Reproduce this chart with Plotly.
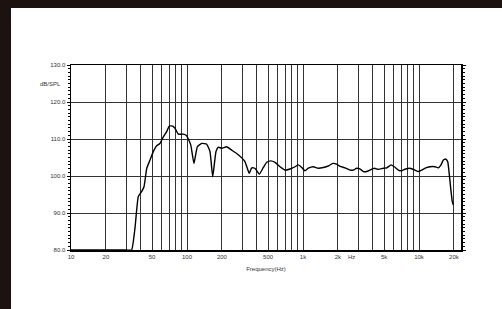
import plotly.graph_objects as go
import math

freq = [10, 20, 30, 33.3, 35.6, 38.0, 40.6, 42.6, 45.0, 48.0, 51.2, 54.8, 58.5, 62.5, 66.8, 70.3,
        75.3, 78.8, 84.2, 93.0, 99.3, 107.7, 114.8, 122.7, 133.9, 147.9, 157.8, 166.6,
        177.8, 186.2, 199.2, 219.8, 242.7, 268.1, 296.5, 316, 331, 344, 361, 385, 420,
        455, 487, 527, 574, 634, 700, 773, 854, 912, 975, 1040, 1111, 1227, 1356, 1497,
        1653, 1803, 1953, 2086, 2303, 2543, 2716, 2904, 3099, 3311, 3540, 3781, 4118,
        4460, 4925, 5268, 5741, 6127, 6633, 7096, 7677, 8360, 9240, 9865, 10550, 11420,
        12440, 13740, 14670, 15480, 16200, 16980, 17670, 18140, 18760, 19360, 19770]
spl = [80, 80, 80, 80.0, 85.9, 94.4, 95.8, 97.1, 102.1, 104.3, 106.6, 108.2, 108.8, 110.6, 112.0, 113.5,
       113.5, 112.9, 111.3, 111.3, 110.9, 108.4, 103.4, 107.9, 108.8, 108.6, 106.6, 99.8,
       106.6, 107.8, 107.5, 107.9, 107.0, 106.1, 104.9, 103.9, 102.1, 100.7, 102.2, 102.1, 100.5,
       102.3, 103.7, 104.1, 103.7, 102.5, 101.6, 101.9, 102.5, 103.0, 102.3, 101.4, 102.1, 102.5, 102.1, 102.3,
       102.7, 103.4, 103.2, 102.6, 102.2, 101.6, 101.6, 102.1, 101.9, 101.2, 101.2, 101.6, 102.1,
       101.8, 102.1, 102.2, 103.0, 102.5, 101.6, 101.4, 101.9, 102.1, 101.6, 101.2, 101.6, 102.2,
       102.5, 102.5, 102.2, 103.0, 104.3, 104.6, 103.9, 101.2, 96.7, 93.1, 92.2]

x_grid = [m * d for d in (10, 100, 1000, 10000) for m in range(1, 10)] + [20000]
x_labels = {10: "10", 20: "20", 50: "50", 100: "100", 200: "200", 500: "500",
            1000: "1k", 2000: "2k", 5000: "5k", 10000: "10k", 20000: "20k"}
y_ticks = [80, 90, 100, 110, 120, 130]

W, H = 502, 309
L, R, T, B = 71, 41, 65, 59
pw, ph = W - L - R, H - T - B

def px(xp):
    return (xp - L) / pw

def py(yp):
    return (H - B - yp) / ph

fig = go.Figure()
fig.add_trace(go.Scatter(x=freq, y=spl, mode="lines",
                         line=dict(color="#000000", width=1.4, shape="spline", smoothing=0.4),
                         hoverinfo="skip", showlegend=False))

fig.update_xaxes(type="log", range=[1, 1 + 390 / 116],
                 tickvals=x_grid,
                 ticktext=[x_labels.get(v, "") for v in x_grid],
                 showgrid=True, gridcolor="#333333", gridwidth=1,
                 showline=True, linecolor="#000000", linewidth=1.5, mirror=True,
                 ticks="", tickfont=dict(family="Liberation Sans", size=6, color="#333333"),
                 title=dict(text="Frequency(Hz)", font=dict(family="Liberation Sans", size=6, color="#333333"),
                            standoff=8),
                 zeroline=False)
fig.update_yaxes(range=[80, 130], tickvals=y_ticks,
                 ticktext=[f"{v:.1f}" for v in y_ticks],
                 showgrid=True, gridcolor="#333333", gridwidth=1,
                 showline=True, linecolor="#000000", linewidth=1.5, mirror="ticks",
                 ticks="outside", ticklen=3, tickcolor="#000000",
                 minor=dict(dtick=1, ticks="outside", ticklen=2, tickcolor="#000000", showgrid=False),
                 tickfont=dict(family="Liberation Sans", size=6, color="#333333"),
                 zeroline=False)

fig.add_annotation(x=math.log10(2630), y=0, xref="x", yref="paper", text="Hz",
                   showarrow=False, yanchor="top", yshift=-2,
                   font=dict(family="Liberation Sans", size=6, color="#333333"))
fig.add_annotation(x=px(63), y=125, xref="paper", yref="y", text="dB/SPL",
                   showarrow=False, xanchor="right",
                   font=dict(family="Liberation Sans", size=6, color="#333333"))

border = "#1c1210"
fig.add_shape(type="rect", xref="paper", yref="paper", x0=px(0), x1=px(W), y0=py(8), y1=py(0),
              fillcolor=border, line=dict(width=0), layer="above")
fig.add_shape(type="rect", xref="paper", yref="paper", x0=px(0), x1=px(11), y0=py(H), y1=py(0),
              fillcolor=border, line=dict(width=0), layer="above")

fig.update_layout(width=W, height=H, margin=dict(l=L, r=R, t=T, b=B),
                  paper_bgcolor="#ffffff", plot_bgcolor="#ffffff", showlegend=False)

fig.write_html("out.html", config={"displayModeBar": False, "staticPlot": True},
               post_script="document.body.style.margin='0';document.body.style.overflow='hidden';")
